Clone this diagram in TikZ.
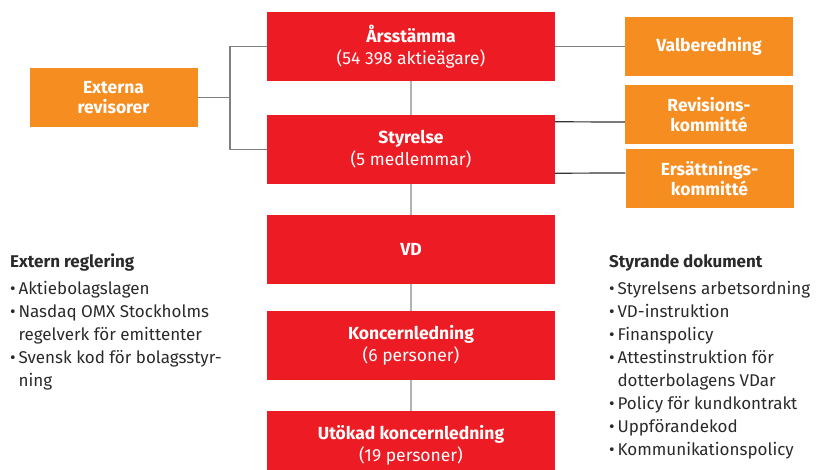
\documentclass[tikz,border=0pt]{standalone}
\usepackage{fontspec}
\setmainfont{Fira Sans}
\usetikzlibrary{positioning}
\definecolor{bolagred}{HTML}{ED1C24}
\definecolor{bolagorange}{HTML}{F68D21}
\definecolor{brodtext}{HTML}{2A2A2A}

\begin{document}
\begin{tikzpicture}[x=1pt, y=-1pt,
    organ/.style = {fill=bolagred, text=white, minimum width=288pt, minimum height=69pt, inner sep=0pt, align=center, font=\fontsize{17.5}{22}\selectfont},
    utskott/.style = {fill=bolagorange, text=white, minimum width=168pt, minimum height=59pt, inner sep=0pt, align=center, font=\bfseries\fontsize{17.5}{19.5}\selectfont},
    lank/.style = {draw=black!50, line width=1.3pt},
    lankmork/.style = {draw=black!80, line width=1.2pt},
    lanklatt/.style = {draw=black!30, line width=1.5pt},
    rubrik/.style = {anchor=base west, inner sep=0pt, text=brodtext, font=\bfseries\fontsize{17}{23}\selectfont},
    lista/.style = {anchor=north west, inner sep=0pt, align=left, text=brodtext, font=\fontsize{17}{23}\selectfont}]

    \useasboundingbox (0,0) rectangle (822,470);

    % Organ i mitten
    \node[organ] (arsstamma) at (411,46.5) {\textbf{Årsstämma}\\(54\;398 aktieägare)};
    \node[organ] (styrelse) at (411,149.5) {\textbf{Styrelse}\\(5 medlemmar)};
    \node[organ] (vd) at (411,249.5) {\textbf{VD}};
    \node[organ] (koncern) at (411,345.5) {\textbf{Koncernledning}\\(6 personer)};
    \node[organ] (utokad) at (411,445.5) {\textbf{Utökad koncernledning}\\(19 personer)};

    % Utskott och revisorer
    \node[utskott] (externa) at (113.5,97.5) {Externa\\revisorer};
    \node[utskott] (valberedning) at (709,46.5) {Valberedning};
    \node[utskott] (revision) at (709,114.5) {Revisions-\\kommitté};
    \node[utskott] (ersattning) at (709.5,178.5) {Ersättnings-\\kommitté};
    \coordinate (knut) at (230,97.5);

    % Linjer
    \draw[lanklatt] (arsstamma) -- (styrelse);
    \draw[lanklatt] (styrelse) -- (vd);
    \draw[lanklatt] (vd) -- (koncern);
    \draw[lanklatt] (koncern) -- (utokad);
    \draw[lank] (arsstamma.west) -| (knut) |- (styrelse.west);
    \draw[lank] (externa.east) -- (knut);
    \draw[lank] (arsstamma.east) -- (valberedning.west);
    \draw[lankmork] ([yshift=-7pt]styrelse.north east) -- ([yshift=-7.5pt]revision.west);
    \draw[lankmork] ([yshift=11pt]styrelse.south east) -- ([yshift=5.5pt]ersattning.west);

    % Textlistor
    \node[rubrik] (extern) at (10,268) {Extern reglering};
    \node[lista] (externlista) at (10,281) {\textbullet\,Aktiebolagslagen\\
        \textbullet\,Nasdaq OMX Stockholms\\
        \hphantom{\textbullet\,}regelverk för emittenter\\
        \textbullet\,Svensk kod för bolagsstyr-\\
        \hphantom{\textbullet\,}ning};
    \node[rubrik] (styrande) at (609,268) {Styrande dokument};
    \node[lista] (styrandelista) at (609,281) {\textbullet\,Styrelsens arbetsordning\\
        \textbullet\,VD-instruktion\\
        \textbullet\,Finanspolicy\\
        \textbullet\,Attestinstruktion för\\
        \hphantom{\textbullet\,}dotterbolagens VDar\\
        \textbullet\,Policy för kundkontrakt\\
        \textbullet\,Uppförandekod\\
        \textbullet\,Kommunikationspolicy};

\end{tikzpicture}
\end{document}
